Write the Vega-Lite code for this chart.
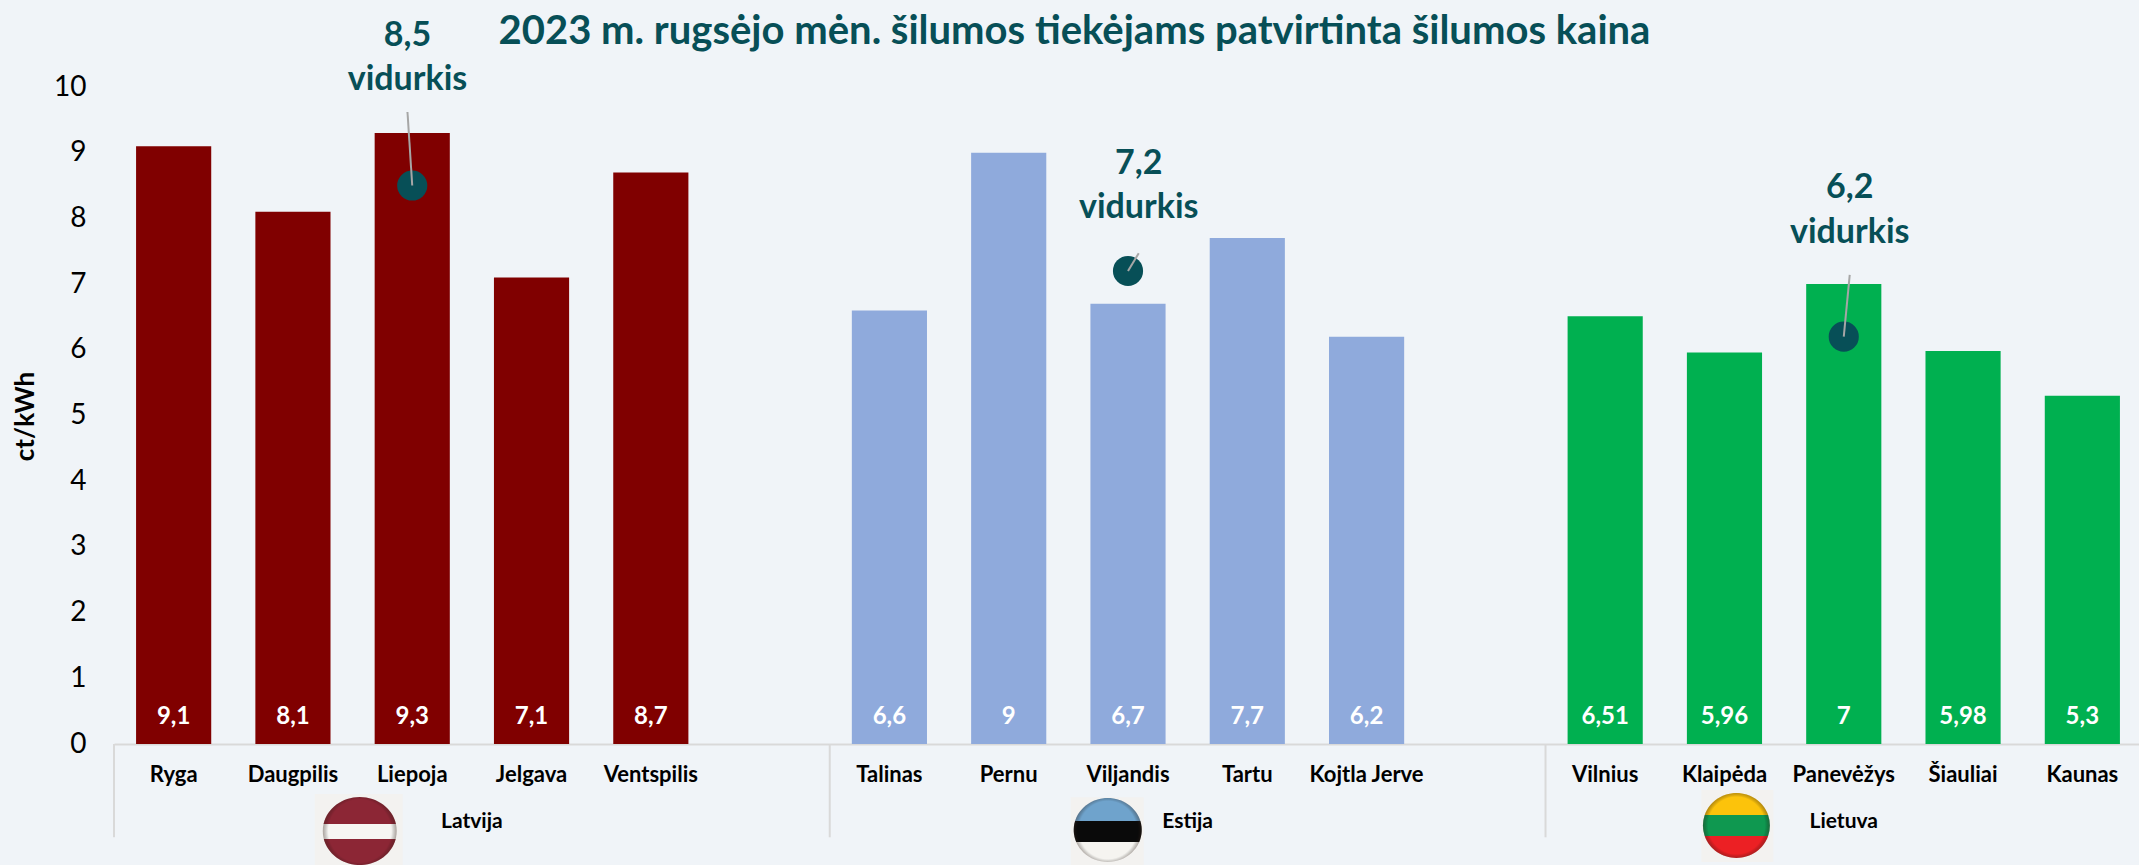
{
"$schema":"https://vega.github.io/schema/vega-lite/v6.json",
"width":2025,"height":657,
"autosize":{"type":"none"},
"padding":{"left":114,"top":87,"right":0,"bottom":121},
"background":"#f0f4f8",
"title":{"text":"2023 m. rugsėjo mėn. šilumos tiekėjams patvirtinta šilumos kaina","anchor":"middle","frame":"group","dx":-52,"offset":-33,"font":"Lato","fontSize":40,"fontWeight":"bold","color":"#074f57"},
"config":{"view":{"stroke":null},"font":"Lato"},
"datasets":{
"bars":[
{"city":"Ryga","country":"Latvija","value":9.1,"label":"9,1"},
{"city":"Daugpilis","country":"Latvija","value":8.1,"label":"8,1"},
{"city":"Liepoja","country":"Latvija","value":9.3,"label":"9,3"},
{"city":"Jelgava","country":"Latvija","value":7.1,"label":"7,1"},
{"city":"Ventspilis","country":"Latvija","value":8.7,"label":"8,7"},
{"city":"Talinas","country":"Estija","value":6.6,"label":"6,6"},
{"city":"Pernu","country":"Estija","value":9,"label":"9"},
{"city":"Viljandis","country":"Estija","value":6.7,"label":"6,7"},
{"city":"Tartu","country":"Estija","value":7.7,"label":"7,7"},
{"city":"Kojtla Jerve","country":"Estija","value":6.2,"label":"6,2"},
{"city":"Vilnius","country":"Lietuva","value":6.51,"label":"6,51"},
{"city":"Klaipėda","country":"Lietuva","value":5.96,"label":"5,96"},
{"city":"Panevėžys","country":"Lietuva","value":7,"label":"7"},
{"city":"Šiauliai","country":"Lietuva","value":5.98,"label":"5,98"},
{"city":"Kaunas","country":"Lietuva","value":5.3,"label":"5,3"}],
"averages":[{"city":"Liepoja","avg":8.5},{"city":"Viljandis","avg":7.2},{"city":"Panevėžys","avg":6.2}],
"leaders":[{"x0":2.5,"x1":2.46,"y0":8.5,"y1":9.62},{"x0":8.5,"x1":8.59,"y0":7.2,"y1":7.47},{"x0":14.5,"x1":14.55,"y0":6.2,"y1":7.14}],
"notes":[{"x":2.46,"y":10.78,"text":"8,5"},{"x":2.46,"y":10.11,"text":"vidurkis"},{"x":8.59,"y":8.83,"text":"7,2"},{"x":8.59,"y":8.16,"text":"vidurkis"},{"x":14.55,"y":8.46,"text":"6,2"},{"x":14.55,"y":7.78,"text":"vidurkis"}],
"groups":[{"start":0,"mid":3,"name":"Latvija"},{"start":6,"mid":9,"name":"Estija"},{"start":12,"mid":14.5,"name":"Lietuva"}],
"flags":[
{"stripe":"LV0","x":2.06,"y":-1.325},{"stripe":"EE0","x":8.33,"y":-1.31},{"stripe":"LT0","x":13.6,"y":-1.24},
{"stripe":"LV1","x":2.06,"y":-1.325},{"stripe":"LV2","x":2.06,"y":-1.325},{"stripe":"LV3","x":2.06,"y":-1.325},
{"stripe":"EE1","x":8.33,"y":-1.31},{"stripe":"EE2","x":8.33,"y":-1.31},{"stripe":"EE3","x":8.33,"y":-1.31},
{"stripe":"LT1","x":13.6,"y":-1.24},{"stripe":"LT2","x":13.6,"y":-1.24},{"stripe":"LT3","x":13.6,"y":-1.24}],
"shades":[{"stripe":"LV","x":2.06,"y":-1.325},{"stripe":"EE","x":8.33,"y":-1.31},{"stripe":"LT","x":13.6,"y":-1.24}]
},
"resolve":{"scale":{"x":"independent","color":"independent"}},
"layer":[
{"data":{"name":"bars"},
"encoding":{"x":{"field":"city","type":"nominal","sort":null,
"scale":{"domain":["Ryga","Daugpilis","Liepoja","Jelgava","Ventspilis"," ","Talinas","Pernu","Viljandis","Tartu","Kojtla Jerve","  ","Vilnius","Klaipėda","Panevėžys","Šiauliai","Kaunas"],"range":[0,2028],"paddingInner":0.37,"paddingOuter":0.185},
"axis":{"title":null,"ticks":false,"labelAngle":0,"domainColor":"#d9d9d9","domainWidth":2,"labelFont":"Lato","labelFontSize":22,"labelFontWeight":"bold","labelColor":"#000000","labelPadding":20}}},
"layer":[
{"mark":{"type":"bar"},
"encoding":{"y":{"field":"value","type":"quantitative","scale":{"domain":[0,10],"nice":false},
"axis":{"title":"ct/kWh","values":[0,1,2,3,4,5,6,7,8,9,10],"format":"d","grid":false,"ticks":false,"domain":false,"labelFont":"Lato","labelFontSize":28,"labelColor":"#000000","labelPadding":28,"titleFont":"Lato","titleFontSize":26,"titleFontWeight":"bold","titleColor":"#000000","titleX":-76,"titleY":329}},
"color":{"field":"country","type":"nominal","scale":{"domain":["Latvija","Estija","Lietuva"],"range":["#800000","#8faadc","#00b050"]},"legend":null}}},
{"mark":{"type":"text","color":"#ffffff","font":"Lato","fontWeight":"bold","fontSize":24,"baseline":"middle"},
"encoding":{"y":{"datum":0.41},"text":{"field":"label","type":"nominal"}}},
{"data":{"name":"averages"},"mark":{"type":"point","filled":true,"size":908,"opacity":1,"color":"#074f57"},
"encoding":{"y":{"field":"avg","type":"quantitative"}}}
]},
{"encoding":{"x":{"type":"quantitative","scale":{"domain":[0,17],"range":[0,2028],"nice":false,"zero":false},"axis":null}},
"layer":[
{"data":{"name":"groups"},"mark":{"type":"rule","color":"#d9d9d9","strokeWidth":2},
"encoding":{"x":{"field":"start","type":"quantitative"},"y":{"datum":0},"y2":{"datum":-1.42}}},
{"data":{"name":"groups"},"mark":{"type":"text","font":"Lato","fontWeight":"bold","fontSize":21,"color":"#000000","baseline":"middle"},
"encoding":{"x":{"field":"mid","type":"quantitative"},"y":{"datum":-1.19},"text":{"field":"name","type":"nominal"}}},
{"data":{"name":"leaders"},"mark":{"type":"rule","color":"#a6a6a6","strokeWidth":2},
"encoding":{"x":{"field":"x0","type":"quantitative"},"x2":{"field":"x1"},"y":{"field":"y0","type":"quantitative"},"y2":{"field":"y1"}}},
{"data":{"name":"notes"},"mark":{"type":"text","font":"Lato","fontWeight":"bold","fontSize":34,"color":"#074f57","baseline":"middle"},
"encoding":{"x":{"field":"x","type":"quantitative"},"y":{"field":"y","type":"quantitative"},"text":{"field":"text","type":"nominal"}}},
{"data":{"name":"flags"},"mark":{"type":"point","filled":true,"size":5476,"opacity":1,"strokeWidth":0},
"encoding":{"x":{"field":"x","type":"quantitative"},"y":{"field":"y","type":"quantitative"},
"shape":{"field":"stripe","type":"nominal","legend":null,"scale":{"domain":["LV0","EE0","LT0","LV1","LV2","LV3","EE1","EE2","EE3","LT1","LT2","LT3","LV","EE","LT"],"range":[
"M -1.216 -1 L 1.162 -1 L 1.162 .92 L -1.216 .92 Z",
"M -1 -.89 L .973 -.89 L .973 .946 L -1 .946 Z",
"M -.946 -.96 L 1 -.96 L 1 .986 L -.946 .986 Z",
"M -.978 -.19 A 1 .919 0 0 1 .978 -.19 Z",
"M -.978 -.19 L .978 -.19 A 1 .919 0 0 1 .972 .216 L -.972 .216 A 1 .919 0 0 1 -.978 -.19 Z",
"M .972 .216 A 1 .919 0 0 1 -.972 .216 Z",
"M -.882 -.243 A .919 .865 0 0 1 .882 -.243 Z",
"M -.882 -.243 L .882 -.243 A .919 .865 0 0 1 .852 .324 L -.852 .324 A .919 .865 0 0 1 -.882 -.243 Z",
"M .852 .324 A .919 .865 0 0 1 -.852 .324 Z",
"M -.856 -.284 A .905 .878 0 0 1 .856 -.284 Z",
"M -.856 -.284 L .856 -.284 A .905 .878 0 0 1 .856 .284 L -.856 .284 A .905 .878 0 0 1 -.856 -.284 Z",
"M .856 .284 A .905 .878 0 0 1 -.856 .284 Z",
"M -1 0 A 1 .919 0 1 1 1 0 A 1 .919 0 1 1 -1 0 Z",
"M -.919 0 A .919 .865 0 1 1 .919 0 A .919 .865 0 1 1 -.919 0 Z",
"M -.905 0 A .905 .878 0 1 1 .905 0 A .905 .878 0 1 1 -.905 0 Z"]}},
"color":{"field":"stripe","type":"nominal","legend":null,"scale":{"domain":["LV0","EE0","LT0","LV1","LV2","LV3","EE1","EE2","EE3","LT1","LT2","LT3"],"range":["#f3f2f0","#f3f2f0","#f3f2f0","#8c2635","#f7f6f3","#8c2635","#6fa3cc","#0a0a0a","#f5f4f0","#fcc30b","#0f9850","#ec2024"]}}}},
{"data":{"name":"shades"},"mark":{"type":"point","filled":true,"size":5476,"opacity":1,"strokeWidth":0,"fill":{"gradient":"radial","x1":0.5,"y1":0.5,"r1":0,"x2":0.5,"y2":0.5,"r2":0.5,"stops":[{"offset":0,"color":"rgba(0,0,0,0)"},{"offset":0.85,"color":"rgba(0,0,0,0)"},{"offset":1,"color":"rgba(60,40,30,0.4)"}]}},
"encoding":{"x":{"field":"x","type":"quantitative"},"y":{"field":"y","type":"quantitative"},
"shape":{"field":"stripe","type":"nominal","legend":null}}}
]}
]
}
